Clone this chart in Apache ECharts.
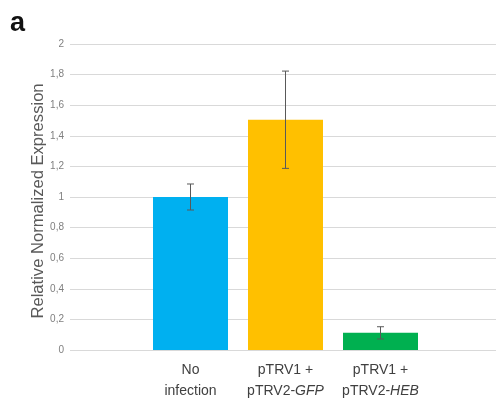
<!DOCTYPE html>
<html><head><meta charset="utf-8">
<script src="https://cdn.jsdelivr.net/npm/echarts@6/dist/echarts.min.js"></script>
<style>html,body{margin:0;padding:0;background:#fff}#c{width:496px;height:406px}</style>
</head><body><div id="c"></div>
<script>
const categories = ["No\ninfection", "pTRV1 +\npTRV2-{i|GFP}", "pTRV1 +\npTRV2-{i|HEB}"];
const values = [1.0, 1.505, 0.112];
const errors = [0.085, 0.318, 0.04];
const colors = ["#00B0F0", "#FFC000", "#00B050"];
const yTicks = { min: 0, max: 2, interval: 0.2 };

const chart = echarts.init(document.getElementById('c'));
const gridTop = 44, gridBottom = 56;
chart.setOption({
  animation: false,
  graphic: [{ type: 'text', left: 10, top: 10, style: { text: 'a', font: 'bold 27px "Liberation Sans", Arial', fill: '#111' } }],
  grid: [
    { left: 70, right: 0, top: gridTop, bottom: gridBottom },
    { left: 143, right: 68, top: gridTop, bottom: gridBottom }
  ],
  xAxis: [
    { gridIndex: 0, type: 'category', data: [''], show: false },
    { gridIndex: 1, type: 'category', data: categories,
      axisLine: { show: false }, axisTick: { show: false },
      axisLabel: { interval: 0, margin: 10, color: '#404040', fontSize: 14, lineHeight: 21,
        fontFamily: '"Liberation Sans", Arial',
        rich: { i: { fontStyle: 'italic', fontSize: 14, color: '#404040', fontFamily: '"Liberation Sans", Arial', lineHeight: 21 } } } }
  ],
  yAxis: [
    { gridIndex: 0, type: 'value', min: yTicks.min, max: yTicks.max, interval: yTicks.interval,
      name: 'Relative Normalized Expression', nameLocation: 'middle', nameGap: 23, nameMoveOverlap: false,
      nameTextStyle: { color: '#595959', fontSize: 16.6, fontFamily: '"Liberation Sans", Arial', padding: [0, 8, 0, 0] },
      axisLine: { show: false }, axisTick: { show: false },
      axisLabel: { color: '#7f7f7f', fontSize: 10, margin: 6, fontFamily: '"Liberation Sans", Arial',
        formatter: v => String(Math.round(v * 10) / 10).replace('.', ',') },
      splitLine: { lineStyle: { color: '#d9d9d9', width: 1 } } },
    { gridIndex: 1, type: 'value', min: yTicks.min, max: yTicks.max, interval: yTicks.interval, show: false, splitLine: { show: false } }
  ],
  series: [
    { type: 'bar', xAxisIndex: 1, yAxisIndex: 1, barWidth: 75,
      data: values.map((v, i) => ({ value: v, itemStyle: { color: colors[i] } })) },
    { type: 'custom', xAxisIndex: 1, yAxisIndex: 1, z: 10,
      data: values.map((v, i) => [i, v - errors[i], v + errors[i]]),
      renderItem: (params, api) => {
        const lo = api.coord([api.value(0), api.value(1)]);
        const hi = api.coord([api.value(0), api.value(2)]);
        const w = 3.5;
        const st = { stroke: '#595959', lineWidth: 1 };
        return { type: 'group', children: [
          { type: 'line', shape: { x1: lo[0], y1: lo[1], x2: hi[0], y2: hi[1] }, style: st },
          { type: 'line', shape: { x1: hi[0] - w, y1: hi[1], x2: hi[0] + w, y2: hi[1] }, style: st },
          { type: 'line', shape: { x1: lo[0] - w, y1: lo[1], x2: lo[0] + w, y2: lo[1] }, style: st }
        ] };
      } }
  ]
});
</script></body></html>
